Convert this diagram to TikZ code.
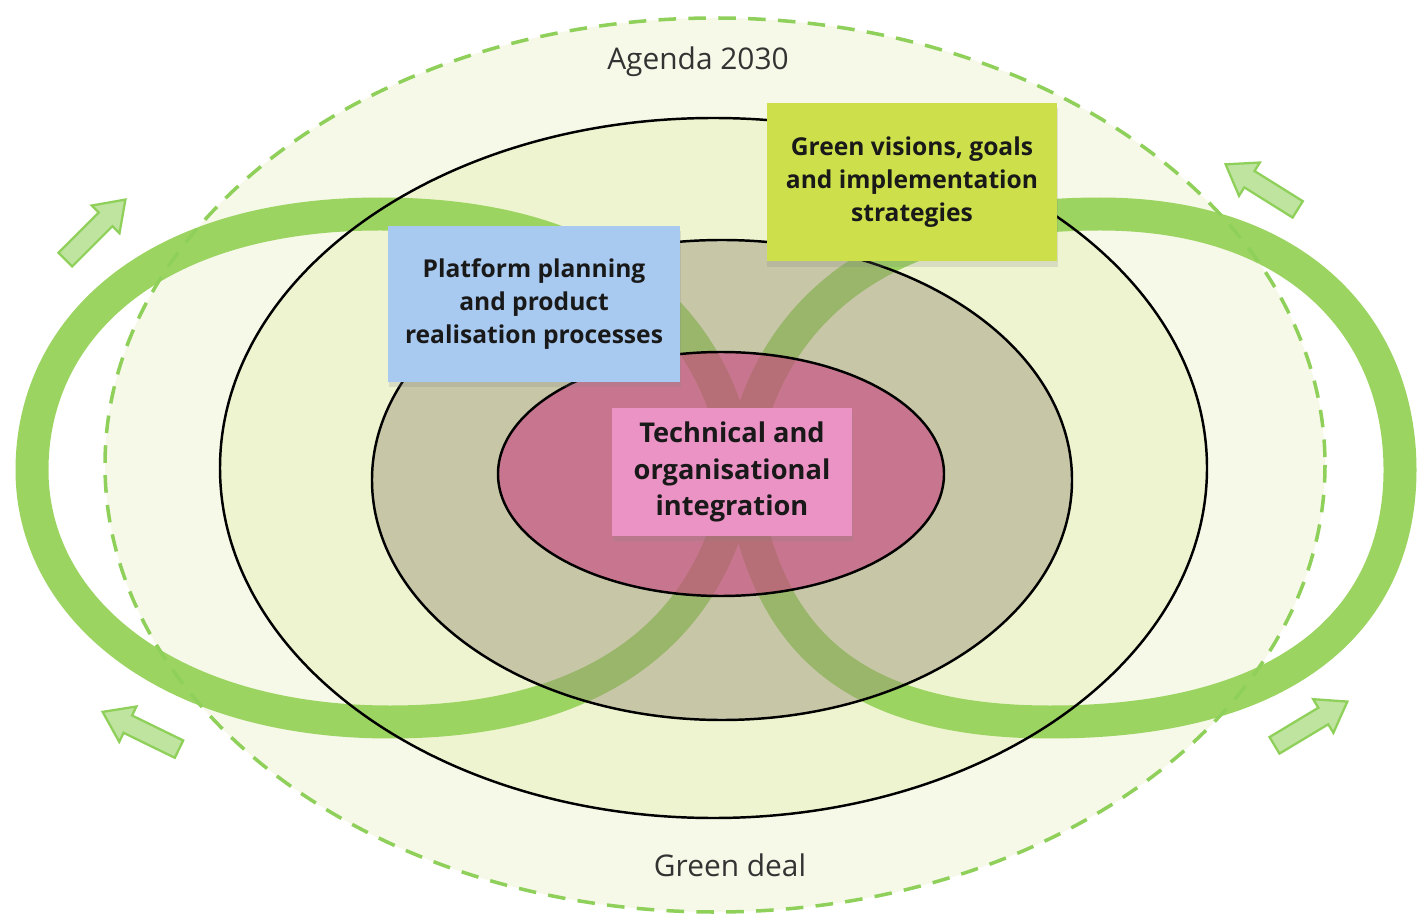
\documentclass[tikz,border=0pt]{standalone}
\usepackage{fontspec}
\setmainfont{Open Sans}
\usetikzlibrary{shapes.arrows,shadows}
\definecolor{paleout}{RGB}{246,248,232}
\definecolor{palein}{RGB}{239,244,208}
\definecolor{ringgrey}{RGB}{152,146,119}
\definecolor{corepink}{RGB}{202,65,127}
\definecolor{bandgreen}{RGB}{156,212,98}
\definecolor{dashgreen}{RGB}{143,208,90}
\definecolor{arrowfill}{RGB}{190,228,160}
\definecolor{noteblue}{RGB}{168,201,240}
\definecolor{notegreen}{RGB}{205,224,75}
\definecolor{notepink}{RGB}{236,147,198}
\tikzset{
  note/.style={align=center, inner sep=0pt, text=black!90,
    drop shadow={shadow xshift=0.5pt, shadow yshift=-3pt, opacity=0.2},
    font=\bfseries\fontsize{14}{19}\selectfont},
  flowarrow/.style={single arrow, draw=dashgreen, fill=arrowfill, line width=1.3pt,
    minimum height=1.7cm, inner sep=0.17cm, single arrow head extend=0.2cm,
    single arrow tip angle=70},
  band/.style={draw=bandgreen, line width=0.66cm, line cap=butt},
}

\begin{document}
\begin{tikzpicture}[x=0.02cm, y=-0.02cm]
	\useasboundingbox (0,0) rectangle (1417,915);
	\fill[paleout] (715,465) ellipse [x radius=610, y radius=447];
	\fill[palein] (713.5,468) ellipse [x radius=493.5, y radius=350];
	\draw[band] (740,470) .. controls (720,330) and (620,214) .. (380,214)
		.. controls (150,214) and (32,330) .. (32,470)
		.. controls (32,610) and (170,722) .. (390,722)
		.. controls (620,722) and (720,610) .. (740,470)
		.. controls (760,330) and (860,214) .. (1100,214)
		.. controls (1300,214) and (1400,330) .. (1400,470)
		.. controls (1400,610) and (1300,722) .. (1050,722)
		.. controls (820,722) and (760,610) .. (740,470);
	\fill[ringgrey, opacity=0.45] (722,480) ellipse [x radius=350, y radius=240];
	\fill[corepink, opacity=0.6] (721,474) ellipse [x radius=223, y radius=122];
	\draw[dashgreen, line width=2pt, dash pattern=on 10pt off 7pt] (715,465) ellipse [x radius=610, y radius=447];
	\draw[line width=1.4pt] (713.5,468) ellipse [x radius=493.5, y radius=350];
	\draw[line width=1.4pt] (722,480) ellipse [x radius=350, y radius=240];
	\draw[line width=1.4pt] (721,474) ellipse [x radius=223, y radius=122];

	\node[text=black!80, font=\fontsize{17}{20}\selectfont] (agenda) at (698,62) {Agenda 2030};
	\node[text=black!80, font=\fontsize{17}{20}\selectfont] (greendeal) at (730,865) {Green deal};

	\node[note, fill=noteblue, minimum width=5.84cm, minimum height=3.12cm] (platform) at (534,304) {Platform planning\\and product\\realisation processes};
	\node[note, fill=notegreen, minimum width=5.82cm, minimum height=3.18cm] (visions) at (912,182) {Green visions, goals\\and implementation\\strategies};
	\node[note, fill=notepink, minimum width=4.8cm, minimum height=2.56cm, font=\bfseries\fontsize{15.5}{21}\selectfont] (integration) at (732,472) {Technical and\\organisational\\integration};

	\node[flowarrow, rotate=45] (flowtl) at (90.5,234.5) {};
	\node[flowarrow, rotate=148] (flowtr) at (1267.5,190.5) {};
	\node[flowarrow, rotate=154] (flowbl) at (147,733.5) {};
	\node[flowarrow, rotate=31] (flowbr) at (1305,727) {};
\end{tikzpicture}
\end{document}
